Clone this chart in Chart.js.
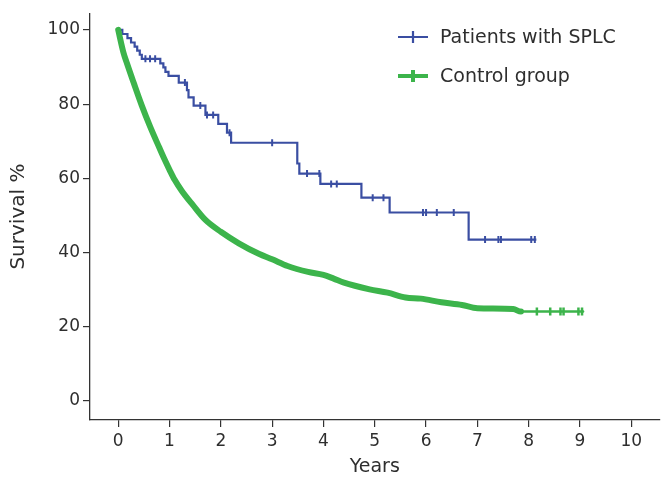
<!DOCTYPE html>
<html>
<head>
<meta charset="utf-8">
<script src="https://cdn.jsdelivr.net/npm/chart.js@4.4.1/dist/chart.umd.min.js"></script>
<style>
  html, body { margin: 0; padding: 0; background: #fff; }
  #wrap { width: 666px; height: 478px; }
</style>
</head>
<body>
<div id="wrap"><canvas id="kmChart"></canvas></div>
<script>
const xTicks = [0, 1, 2, 3, 4, 5, 6, 7, 8, 9, 10]
const yTicks = [0, 20, 40, 60, 80, 100]

// Patients with SPLC: event times and survival after each event
const splcTimes = [0, 0.08, 0.18, 0.25, 0.32, 0.37, 0.42, 0.46, 0.82, 0.88, 0.92, 0.98, 1.18, 1.34, 1.37, 1.47, 1.7, 1.95, 2.12, 2.2, 3.49, 3.53, 3.94, 4.74, 5.29, 6.83, 8.15]
const splcSurvival = [100, 98.9, 97.8, 96.6, 95.5, 94.4, 93.3, 92.2, 91.0, 89.9, 88.7, 87.6, 85.8, 83.8, 81.8, 79.6, 77.1, 74.7, 72.3, 69.6, 64.0, 61.3, 58.5, 54.8, 50.8, 43.5, 43.5]
const splcCensorTimes = [0.53, 0.62, 0.72, 1.3, 1.6, 1.73, 1.85, 2.17, 3.0, 3.68, 3.92, 4.15, 4.26, 4.96, 5.17, 5.94, 6.0, 6.21, 6.54, 7.15, 7.41, 7.46, 8.05, 8.12]
const splcCensorSurvival = [92.2, 92.2, 92.2, 85.8, 79.6, 77.1, 77.1, 72.3, 69.6, 61.3, 61.3, 58.5, 58.5, 54.8, 54.8, 50.8, 50.8, 50.8, 50.8, 43.5, 43.5, 43.5, 43.5, 43.5]

// Control group
const controlTimes = [0, 0.1, 0.17, 0.3, 0.46, 0.62, 0.8, 0.9, 1.0, 1.1, 1.24, 1.45, 1.7, 2.0, 2.35, 2.75, 3.0, 3.3, 3.7, 4.0, 4.2, 4.4, 4.9, 5.25, 5.6, 5.9, 6.3, 6.7, 7.0, 7.7, 7.85, 8.5, 9.06]
const controlSurvival = [100, 94, 91, 85.8, 79.6, 74, 68.3, 65.2, 62.3, 59.6, 56.6, 52.9, 48.8, 45.6, 42.5, 39.6, 38.2, 36.4, 34.8, 34, 33, 31.9, 30.1, 29.2, 27.9, 27.6, 26.6, 25.9, 25, 24.8, 24.1, 24.1, 24.1]
const controlCensorTimes = [8.16, 8.42, 8.62, 8.68, 8.97, 9.04]
const controlCensorSurvival = [24.1, 24.1, 24.1, 24.1, 24.1, 24.1]

const blue = '#3a4ea2'
const green = '#3cb44b'
const textColor = '#2e2e2e'

const pts = (xs, ys) => xs.map((x, i) => ({ x: x, y: ys[i] }))

const legendItems = [
    { label: 'Patients with SPLC', color: blue, width: 2.2, y: 37 },
    { label: 'Control group', color: green, width: 4, y: 76 }
]

const kmLegend = {
    id: 'kmLegend',
    afterDraw(chart) {
        const ctx = chart.ctx
        ctx.save()
        legendItems.forEach(item => {
            ctx.strokeStyle = item.color
            ctx.lineWidth = item.width
            ctx.beginPath()
            ctx.moveTo(398, item.y)
            ctx.lineTo(428, item.y)
            ctx.moveTo(413, item.y - 6)
            ctx.lineTo(413, item.y + 6)
            ctx.stroke()
            ctx.fillStyle = textColor
            ctx.font = '19px "DejaVu Sans"'
            ctx.textBaseline = 'middle'
            ctx.fillText(item.label, 440, item.y + 1)
        })
        ctx.restore()
    }
}

const config = {
    type: 'line',
    data: {
        datasets: [
            {
                label: 'Control group',
                data: pts(controlTimes, controlSurvival),
                borderColor: green,
                borderWidth: 6,
                pointRadius: 0,
                cubicInterpolationMode: 'monotone',
                borderCapStyle: 'round',
                borderJoinStyle: 'round',
                segment: {
                    borderWidth: c => c.p0.parsed.x >= 7.8 ? 2.5 : 6
                }
            },
            {
                label: 'Control censored',
                data: pts(controlCensorTimes, controlCensorSurvival),
                showLine: false,
                pointStyle: 'line',
                rotation: 90,
                pointRadius: 4,
                borderColor: green,
                borderWidth: 2.5
            },
            {
                label: 'Patients with SPLC',
                data: pts(splcTimes, splcSurvival),
                borderColor: blue,
                borderWidth: 2.2,
                pointRadius: 0,
                stepped: 'before'
            },
            {
                label: 'SPLC censored',
                data: pts(splcCensorTimes, splcCensorSurvival),
                showLine: false,
                pointStyle: 'line',
                rotation: 90,
                pointRadius: 3.5,
                borderColor: blue,
                borderWidth: 2
            }
        ]
    },
    options: {
        responsive: true,
        maintainAspectRatio: false,
        animation: false,
        layout: { padding: { left: 7, top: 10, right: 6, bottom: 0 } },
        plugins: {
            legend: { display: false },
            tooltip: { enabled: false }
        },
        scales: {
            x: {
                type: 'linear',
                min: -0.55,
                max: 10.55,
                afterBuildTicks: s => { s.ticks = xTicks.map(v => ({ value: v })) },
                afterFit: s => { s.height = 58 },
                grid: { drawOnChartArea: false, drawTicks: true, tickLength: 7, color: '#333', lineWidth: 1.2 },
                border: { display: true, color: '#333', width: 1.3 },
                ticks: { color: textColor, font: { family: 'DejaVu Sans', size: 17 }, padding: 4, maxRotation: 0 },
                title: { display: true, text: 'Years', color: textColor, font: { family: 'DejaVu Sans', size: 19 }, padding: { top: 0, bottom: 0 } }
            },
            y: {
                type: 'linear',
                min: -5.1,
                max: 104.5,
                afterBuildTicks: s => { s.ticks = yTicks.map(v => ({ value: v })) },
                afterFit: s => { s.width = 83 },
                grid: { drawOnChartArea: false, drawTicks: true, tickLength: 7, color: '#333', lineWidth: 1.2 },
                border: { display: true, color: '#333', width: 1.3 },
                ticks: { color: textColor, font: { family: 'DejaVu Sans', size: 17 }, padding: 3 },
                title: { display: true, text: 'Survival %', color: textColor, font: { family: 'DejaVu Sans', size: 20 }, padding: { top: 0, bottom: 0 } }
            }
        }
    },
    plugins: [kmLegend]
}

const kmChart = new Chart(document.getElementById('kmChart'), config)
</script>
</body>
</html>
